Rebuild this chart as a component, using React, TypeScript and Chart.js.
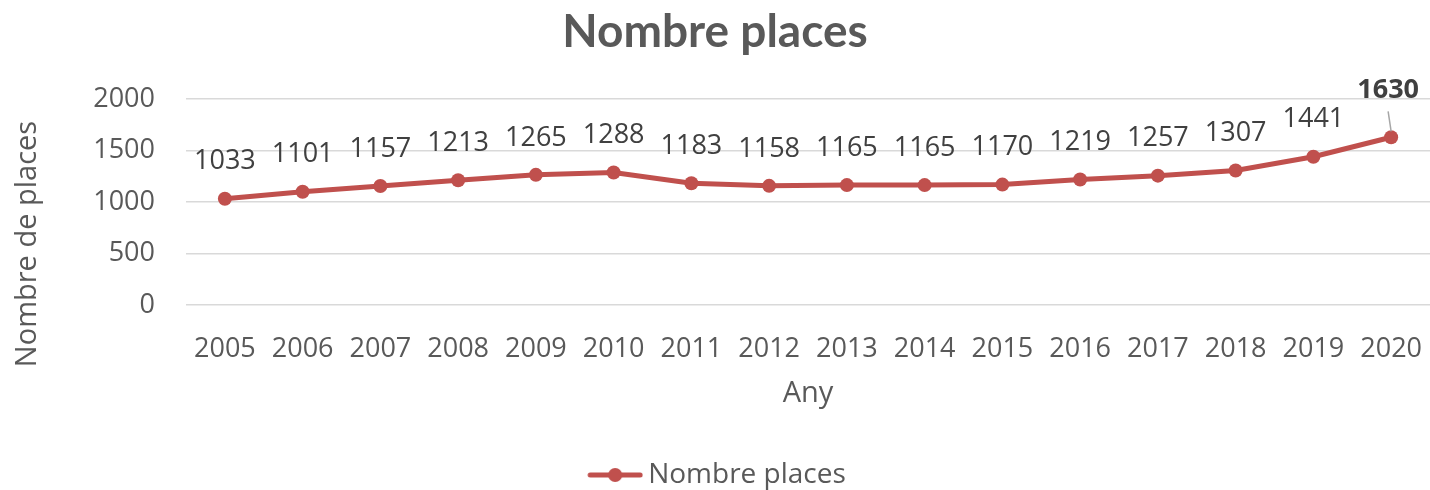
import React, { useEffect, useRef } from "react";
import { Chart, registerables } from "chart.js";

Chart.register(...registerables);

const years = ["2005", "2006", "2007", "2008", "2009", "2010", "2011", "2012", "2013", "2014", "2015", "2016", "2017", "2018", "2019", "2020"];
const places = [1033, 1101, 1157, 1213, 1265, 1288, 1183, 1158, 1165, 1165, 1170, 1219, 1257, 1307, 1441, 1630];
const seriesName = "Nombre places";
const chartTitle = "Nombre places";
const xTitle = "Any";
const yTitle = "Nombre de places";

const RED = "#C0504D";
const GREY = "#595959";
const DARK = "#404040";
const FONT = "'Open Sans', sans-serif";

function makeLegendMarker(): HTMLCanvasElement {
  const c = document.createElement("canvas");
  c.width = 68;
  c.height = 16;
  const ctx = c.getContext("2d")!;
  ctx.strokeStyle = RED;
  ctx.lineWidth = 5;
  ctx.lineCap = "round";
  ctx.beginPath();
  ctx.moveTo(15, 8);
  ctx.lineTo(65, 8);
  ctx.stroke();
  ctx.fillStyle = RED;
  ctx.beginPath();
  ctx.arc(40, 8, 7, 0, Math.PI * 2);
  ctx.fill();
  return c;
}

const labelPlugin = {
  id: "pointLabels",
  afterDatasetsDraw(chart: any) {
    const ctx = chart.ctx;
    const meta = chart.getDatasetMeta(0);
    const data = chart.data.datasets[0].data as number[];
    ctx.save();
    ctx.textAlign = "center";
    ctx.textBaseline = "middle";
    ctx.fillStyle = DARK;
    meta.data.forEach((pt: any, i: number) => {
      const last = i === data.length - 1;
      if (last) {
        ctx.strokeStyle = "#A6A6A6";
        ctx.lineWidth = 1.5;
        ctx.beginPath();
        ctx.moveTo(pt.x - 3, pt.y - 26);
        ctx.lineTo(pt.x, pt.y - 6);
        ctx.stroke();
        ctx.font = `bold 27px ${FONT}`;
        ctx.fillText(String(data[i]), pt.x - 3, pt.y - 47);
      } else {
        ctx.font = `27px ${FONT}`;
        ctx.fillText(String(data[i]), pt.x, pt.y - 37);
      }
    });
    ctx.restore();
  },
  afterDraw(chart: any) {
    const ctx = chart.ctx;
    ctx.save();
    ctx.translate(28, 244);
    ctx.rotate(-Math.PI / 2);
    ctx.textAlign = "center";
    ctx.textBaseline = "middle";
    ctx.fillStyle = GREY;
    ctx.font = `29px ${FONT}`;
    ctx.fillText(yTitle, 0, 0);
    ctx.restore();
  },
};

export default function App() {
  const ref = useRef<HTMLCanvasElement>(null);
  useEffect(() => {
    document.body.style.margin = "0";
    const marker = makeLegendMarker();
    const chart = new Chart(ref.current!, {
      type: "line",
      data: {
        labels: years,
        datasets: [
          {
            label: seriesName,
            data: places,
            borderColor: RED,
            backgroundColor: RED,
            borderWidth: 5,
            pointRadius: 7,
            pointHoverRadius: 7,
            pointBackgroundColor: RED,
            pointBorderWidth: 0,
            tension: 0,
            clip: false as any,
          },
        ],
      },
      options: {
        responsive: false,
        animation: false,
        layout: { autoPadding: false, padding: { left: 0, right: 0, top: 0, bottom: -9 } },
        plugins: {
          title: {
            display: true,
            text: chartTitle,
            color: GREY,
            font: { family: "Lato, sans-serif", size: 46, weight: "bold" },
            padding: { top: 5, bottom: 39 },
          },
          legend: {
            position: "bottom",
            labels: {
              color: GREY,
              font: { family: FONT, size: 28 },
              usePointStyle: true,
              pointStyle: marker as any,
              pointStyleWidth: 50,
              padding: 10,
            },
          },
          tooltip: { enabled: false },
        },
        scales: {
          x: {
            offset: true,
            grid: { display: false, drawTicks: false },
            border: { display: false },
            ticks: { color: GREY, font: { family: FONT, size: 27 }, padding: 28, maxRotation: 0, autoSkip: false },
            title: { display: true, text: xTitle, color: GREY, font: { family: FONT, size: 29 }, padding: { top: 0, bottom: 40 } },
            afterFit(scale: any) {
              scale.height = 146;
              scale.paddingLeft = 0;
              scale.paddingRight = 0;
            },
          },
          y: {
            min: 0,
            max: 2000,
            ticks: {
              stepSize: 500,
              color: GREY,
              font: { family: FONT, size: 27 },
              padding: 31,
              callback: (v: any) => String(v),
            },
            grid: { color: "#D9D9D9", lineWidth: 1.5, drawTicks: false },
            border: { display: false },
            afterFit(scale: any) {
              scale.width = 186;
            },
          },
        },
      },
      plugins: [labelPlugin],
    });
    return () => chart.destroy();
  }, []);
  return (
    <div style={{ width: 1430, height: 490 }}>
      <canvas ref={ref} width={1430} height={490} style={{ display: "block" }} />
    </div>
  );
}
